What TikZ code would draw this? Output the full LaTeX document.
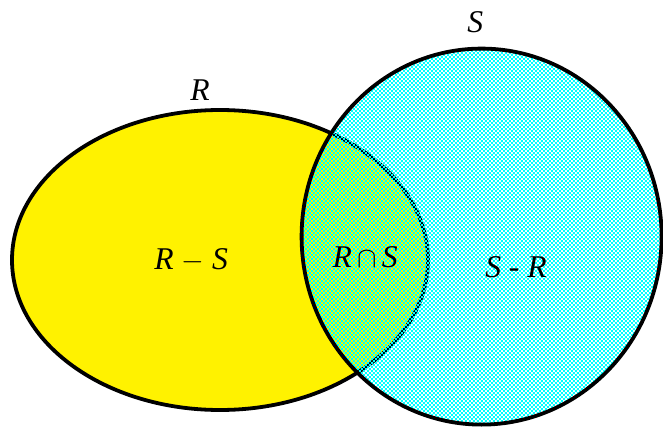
\documentclass[tikz,border=0pt]{standalone}
\usepackage{fontspec}
\setmainfont{Liberation Serif}
\usepackage{tikz}
\usetikzlibrary{patterns.meta}

% cyan/white checker as in the reference
\pgfdeclarepattern{
  name=fineboard,
  type=uncolored,
  bottom left={\pgfpoint{0pt}{0pt}},
  top right={\pgfpoint{2.84pt}{2.84pt}},
  tile size={\pgfpoint{2.84pt}{2.84pt}},
  code={
    \pgfpathrectangle{\pgfpoint{0pt}{0pt}}{\pgfpoint{1.42pt}{1.42pt}}
    \pgfpathrectangle{\pgfpoint{1.42pt}{1.42pt}}{\pgfpoint{1.42pt}{1.42pt}}
    \pgfusepath{fill}
  }
}

\tikzset{
  setline/.style={line width=2.7pt, black},
  setlabel/.style={font=\fontsize{22.5}{27}\selectfont, inner sep=1pt}
}

\begin{document}
\begin{tikzpicture}
        \useasboundingbox (0,0) rectangle (16.575,10.675);

        % S background
        \fill[white] (12.04,4.76) ellipse [x radius=4.5, y radius=4.7];

        % Set R
        \fill[yellow] (5.5,4.175) ellipse [x radius=5.2, y radius=3.75];
        \draw[setline] (5.5,4.175) ellipse [x radius=5.2, y radius=3.75];

        % Set S (pattern over R)
        \fill[pattern=fineboard, pattern color=cyan] (12.04,4.76) ellipse [x radius=4.5, y radius=4.7];
        \draw[setline] (12.04,4.76) ellipse [x radius=4.5, y radius=4.7];

        % Labels
        \node[setlabel] (rname) at (5.0,8.43) {\textit{R}};
        \node[setlabel] (sname) at (11.88,10.12) {\textit{S}};
        \node[setlabel] (ronly) at (4.78,4.17) {\textit{R} $-$ \textit{S}};
        \node[setlabel] (both) at (9.13,4.25) {\textit{R}\,$\cap$\,\textit{S}};
        \node[setlabel] (sonly) at (12.9,4.0) {\textit{S} - \textit{R}};
    \end{tikzpicture}
\end{document}
